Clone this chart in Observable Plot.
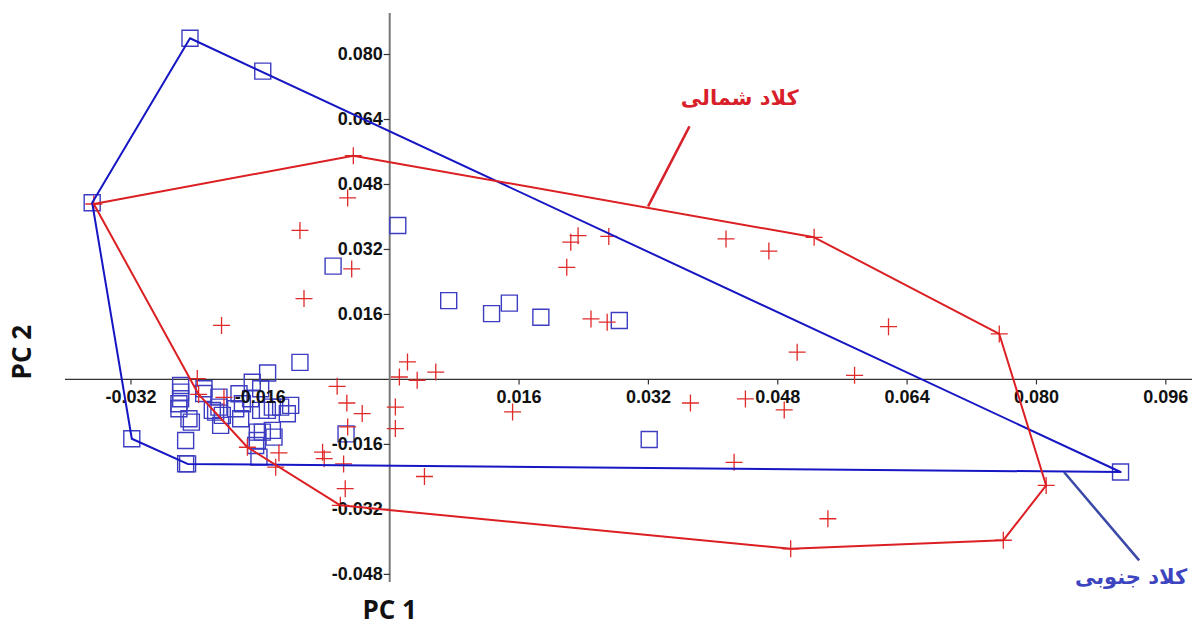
<!DOCTYPE html>
<html><head><meta charset="utf-8">
<script src="https://cdn.jsdelivr.net/npm/d3@7"></script>
<script src="https://cdn.jsdelivr.net/npm/@observablehq/plot@0.6"></script>
<style>body{margin:0;background:#fff;overflow:hidden}</style>
</head><body><div id="chart"></div>
<script>
// Southern clade (blue squares): PC1, PC2
const southPC1 = [-0.0247,-0.0157,-0.0368,0.0010,-0.0070,0.0073,0.0126,0.0148,0.0187,0.0284,0.0321,0.0904,-0.0319,-0.0250,-0.0111,-0.0151,-0.0054,-0.0170,
  -0.02586,-0.02586,-0.02586,-0.02607,-0.02607,-0.02483,-0.02453,-0.02524,-0.02524,-0.02297,-0.02112,-0.02112,-0.02153,-0.02070,-0.02091,-0.01864,-0.01822,-0.01905,-0.01720,-0.01596,-0.01596,-0.01513,-0.01451,-0.01349,-0.01225,-0.01266,-0.01843,-0.01637,-0.01575,-0.01451,-0.01431,-0.01637,-0.01658,-0.01617,-0.02194,-0.02301];
const southPC2 = [0.0840,0.0759,0.0435,0.0379,0.0279,0.0194,0.0162,0.0188,0.0153,0.0145,-0.0148,-0.0228,-0.0146,-0.0208,0.0042,0.0016,-0.0134,-0.0007,
  -0.00148,-0.00313,-0.00475,-0.00598,-0.00721,-0.00967,-0.01051,-0.01502,-0.02075,-0.00229,-0.00436,-0.00682,-0.00805,-0.00886,-0.01132,-0.00352,-0.00598,-0.00721,-0.00475,-0.00229,-0.00763,-0.00763,-0.00682,-0.00682,-0.00640,-0.00844,-0.00967,-0.01297,-0.01297,-0.01255,-0.01420,-0.01502,-0.01625,-0.01913,-0.00763,-0.00345];

// Northern clade (red crosses): PC1, PC2
const northPC1 = [-0.0366,-0.0045,0.0525,0.0754,0.0812,0.0759,0.0496,-0.0061,-0.0176,-0.02363,
  -0.0052,-0.0111,-0.0047,-0.0106,-0.0208,-0.0238,-0.0205,-0.0137,-0.0141,-0.0065,-0.0053,-0.0034,-0.0052,-0.0083,-0.0081,-0.0057,-0.0055,
  0.0022,0.0012,0.0034,0.0057,0.0007,0.0007,0.0043,0.0233,0.0224,0.0271,0.0219,0.0416,0.0469,0.0249,0.0269,0.0504,0.0152,0.0372,0.0440,0.0488,0.0617,0.0575,0.0542,0.0426];
const northPC2 = [0.0432,0.0551,0.0350,0.0112,-0.0261,-0.0396,-0.0417,-0.0310,-0.0167,-0.00369,
  0.0447,0.0367,0.0272,0.0199,0.0133,0.0002,-0.0044,-0.0181,-0.0216,-0.0017,-0.0058,-0.0084,-0.0117,-0.0179,-0.0195,-0.0208,-0.0269,
  0.0043,0.0006,-0.0002,0.0018,-0.0068,-0.0121,-0.0239,0.0354,0.0338,0.0352,0.0276,0.0346,0.0316,0.0149,0.0141,0.0067,-0.0080,-0.0058,-0.0048,-0.0075,0.0130,0.0010,-0.0343,-0.0204];

// Convex hull vertices (indices into the point arrays above)
const southHull = [0, 11, 13, 12, 2, 0];
const northHull = [0, 1, 2, 3, 4, 5, 6, 7, 8, 9, 0];

// Tick labels
const xTicks = [-0.032, -0.016, 0.016, 0.032, 0.048, 0.064, 0.080, 0.096];
const yTicks = [0.080, 0.064, 0.048, 0.032, 0.016, -0.016, -0.032, -0.048];

// Annotations
const cladeNames = ["کلاد شمالی", "کلاد جنوبی"];
const labelPC1 = [0.0433, 0.0917];
const labelPC2 = [0.0692, -0.0487];
const leaderFrom = [[0.03196, 0.0426], [0.0834, -0.0228]];
const leaderTo = [[0.03708, 0.0623], [0.0927, -0.04455]];

const south = southPC1.map((x, i) => ({x, y: southPC2[i]}));
const north = northPC1.map((x, i) => ({x, y: northPC2[i]}));
const southHullPts = southHull.map(i => south[i]);
const northHullPts = northHull.map(i => north[i]);
const labels = cladeNames.map((t, i) => ({t, x: labelPC1[i], y: labelPC2[i]}));
const leaders = leaderFrom.map((f, i) => ({x1: f[0], y1: f[1], x2: leaderTo[i][0], y2: leaderTo[i][1]}));

const squareSym = {draw(c) { c.rect(-8, -8, 16, 16); }};
const plusSym = {draw(c) { c.moveTo(-8.5, 0); c.lineTo(8.5, 0); c.moveTo(0, -8.5); c.lineTo(0, 8.5); }};
const xTickSym = {draw(c) { c.moveTo(0, 0); c.lineTo(0, 5); }};
const yTickSym = {draw(c) { c.moveTo(0, 0); c.lineTo(-6, 0); }};
const fmt = d => d.toFixed(3);

const chart = Plot.plot({
  width: 1195, height: 631,
  marginLeft: 65, marginRight: 3, marginTop: 13, marginBottom: 49,
  x: {domain: [-0.0401, 0.0993], axis: null},
  y: {domain: [-0.0500, 0.0901], axis: null},
  style: {fontFamily: "'Liberation Sans', Arial, sans-serif", background: "#fff"},
  marks: [
    Plot.ruleY([0], {stroke: "#333", strokeWidth: 1.2}),
    Plot.ruleX([0], {stroke: "#777", strokeWidth: 2}),
    Plot.dot(xTicks, {x: d => d, y: 0, symbol: xTickSym, stroke: "#333", fill: "none", strokeWidth: 1.2}),
    Plot.dot(yTicks, {x: 0, y: d => d, symbol: yTickSym, stroke: "#333", fill: "none", strokeWidth: 1.2}),
    Plot.dot(south, {x: "x", y: "y", symbol: squareSym, stroke: "#3d3dc2", fill: "none", strokeWidth: 1.4}),
    Plot.dot(north, {x: "x", y: "y", symbol: plusSym, stroke: "#e02a2a", fill: "none", strokeWidth: 1.3}),
    Plot.text(xTicks, {x: d => d, y: 0, dy: 18, text: fmt, fontSize: 18, fontWeight: "bold", fill: "#111"}),
    Plot.text(yTicks, {x: 0, y: d => d, dx: -7, textAnchor: "end", text: fmt, fontSize: 18, fontWeight: "bold", fill: "#111"}),
    Plot.line(southHullPts, {x: "x", y: "y", stroke: "#1616c4", strokeWidth: 2, curve: "linear"}),
    Plot.line(northHullPts, {x: "x", y: "y", stroke: "#dc1f23", strokeWidth: 2, curve: "linear"}),
    Plot.link(leaders, {x1: "x1", y1: "y1", x2: "x2", y2: "y2", stroke: (d, i) => i === 0 ? "#d81f2a" : "#3a48a8", strokeWidth: 2.5}),
    Plot.text(labels, {x: "x", y: "y", text: "t", fill: (d, i) => i === 0 ? "#d81f2a" : "#3c44c0", fontSize: 21, fontWeight: "bold", fontFamily: "'DejaVu Sans', sans-serif"}),
    Plot.text(["PC 1"], {x: 0, frameAnchor: "bottom", dy: 36, text: d => d, fontSize: 26, fontWeight: "bold", fontFamily: "'Open Sans', sans-serif", fill: "#111"}),
    Plot.text(["PC 2"], {y: 0, frameAnchor: "left", dx: -43, rotate: -90, text: d => d, fontSize: 26, fontWeight: "bold", fontFamily: "'Open Sans', sans-serif", fill: "#111"})
  ]
});
document.getElementById("chart").appendChild(chart);
</script>
</body></html>
